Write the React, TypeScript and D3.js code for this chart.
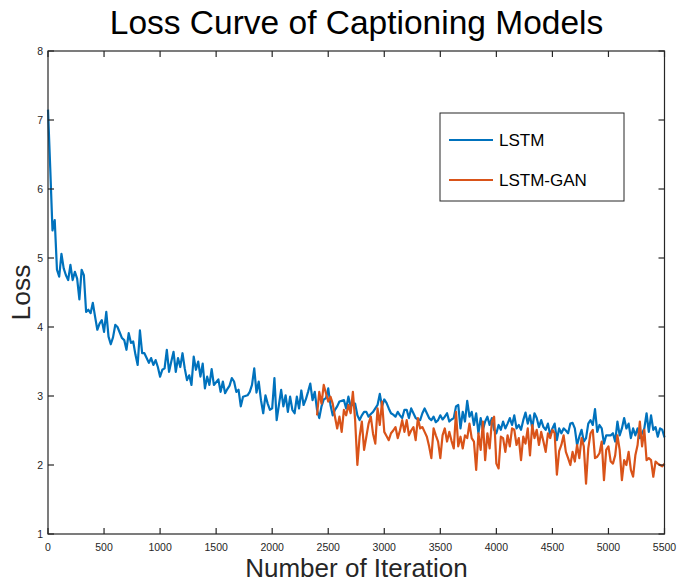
import * as d3 from 'd3'

// logged every 20 iterations
const STEP = 20
const GAN_START = 2400

const lstmLoss = [
  7.15, 6.3, 5.4, 5.55, 4.83, 4.73, 5.06, 4.85, 4.75, 4.68,
  4.9, 4.68, 4.8, 4.7, 4.4, 4.83, 4.75, 4.22, 4.25, 4.2,
  4.35, 4.15, 3.96, 4.05, 4.1, 3.93, 4.22, 3.86, 3.75, 3.85,
  4.03, 4.0, 3.92, 3.84, 3.81, 3.67, 3.91, 3.77, 3.79, 3.6,
  3.45, 3.95, 3.62, 3.62, 3.55, 3.48, 3.55, 3.45, 3.52, 3.42,
  3.28, 3.38, 3.4, 3.67, 3.35, 3.5, 3.64, 3.35, 3.55, 3.42,
  3.62, 3.4, 3.23, 3.3, 3.16, 3.57, 3.38, 3.5, 3.28, 3.47,
  3.11, 3.28, 3.16, 3.39, 3.16, 3.2, 3.24, 3.06, 3.21, 3.04,
  3.1, 3.15, 3.26, 3.21, 3.06, 3.09, 2.85, 2.99, 3.0, 3.01,
  3.06, 3.16, 3.4, 3.05, 3.21, 2.94, 2.75, 3.01, 2.89, 2.8,
  2.82, 3.26, 2.65, 2.87, 3.09, 2.85, 3.01, 2.77, 2.99, 2.8,
  2.75, 2.99, 2.82, 3.08, 2.87, 2.95, 3.06, 3.18, 2.94, 3.06,
  2.8, 2.68, 2.85, 2.95, 2.97, 3.11, 2.87, 2.72, 2.8, 2.85,
  2.92, 2.93, 2.94, 2.82, 2.99, 2.85, 2.88, 2.89, 2.72, 2.65,
  2.72, 2.77, 2.77, 2.7, 2.74, 2.77, 2.82, 2.87, 3.03, 2.85,
  2.95, 2.9, 2.82, 2.75, 2.73, 2.7, 2.77, 2.72, 2.68, 2.8,
  2.8, 2.68, 2.82, 2.75, 2.68, 2.66, 2.65, 2.75, 2.82, 2.75,
  2.68, 2.65, 2.7, 2.62, 2.65, 2.72, 2.66, 2.7, 2.75, 2.63,
  2.66, 2.68, 2.85, 2.87, 2.53, 2.77, 2.63, 2.93, 2.7, 2.77,
  2.58, 2.75, 2.46, 2.68, 2.51, 2.63, 2.7, 2.58, 2.68, 2.51,
  2.46, 2.58, 2.51, 2.63, 2.53, 2.6, 2.68, 2.58, 2.72, 2.53,
  2.58, 2.51, 2.65, 2.76, 2.6, 2.72, 2.53, 2.75, 2.68, 2.55,
  2.65, 2.55, 2.51, 2.6, 2.43, 2.53, 2.6, 2.36, 2.53, 2.46,
  2.53, 2.5, 2.46, 2.6, 2.61, 2.53, 2.29, 2.41, 2.51, 2.34,
  2.39, 2.6, 2.65, 2.58, 2.81, 2.48, 2.58, 2.53, 2.31, 2.43,
  2.43, 2.43, 2.46, 2.34, 2.63, 2.43, 2.53, 2.68, 2.53, 2.6,
  2.39, 2.53, 2.43, 2.53, 2.39, 2.46, 2.53, 2.75, 2.48, 2.72,
  2.51, 2.55, 2.41, 2.53, 2.51, 2.4
]

const ganLoss = [
  2.72, 3.06, 2.89, 3.16, 3.04, 2.92, 2.99, 2.89, 2.7, 2.53,
  2.7, 2.48, 2.8, 2.72, 2.87, 2.75, 3.06, 2.65, 2.0, 2.41,
  2.63, 2.22, 2.41, 2.6, 2.7, 2.45, 2.31, 2.82, 2.58, 2.92,
  2.48, 2.42, 2.36, 2.46, 2.5, 2.55, 2.39, 2.5, 2.65, 2.48,
  2.65, 2.43, 2.5, 2.55, 2.36, 2.68, 2.53, 2.55, 2.48, 2.41,
  2.27, 2.1, 2.53, 2.43, 2.34, 2.1, 2.43, 2.53, 2.34, 2.48,
  2.35, 2.24, 2.77, 2.27, 2.41, 2.24, 2.43, 2.39, 2.6, 2.39,
  2.34, 1.93, 2.46, 2.22, 2.63, 2.07, 2.46, 2.24, 2.63, 2.7,
  2.02, 1.95, 2.41, 2.39, 2.19, 2.43, 2.27, 2.53, 2.51, 2.29,
  2.39, 2.07, 2.41, 2.31, 2.53, 2.14, 2.58, 2.39, 2.51, 2.29,
  2.48, 2.34, 2.19, 2.46, 2.39, 2.51, 2.46, 1.86, 2.2, 2.29,
  2.43, 2.19, 2.1, 2.0, 2.19, 2.05, 2.29, 2.1, 2.39, 2.27,
  1.73, 2.24, 2.46, 2.51, 2.1, 2.12, 2.17, 2.34, 1.78, 2.22,
  2.27, 2.05, 2.02, 2.14, 2.43, 2.22, 1.78, 2.07, 2.0, 2.19,
  1.93, 1.83, 2.14, 2.29, 2.63, 2.27, 2.51, 2.07, 2.1, 2.07,
  1.83, 2.05, 2.02, 2.0, 1.98, 2.02
]

const xTicks = [0, 500, 1000, 1500, 2000, 2500, 3000, 3500, 4000, 4500, 5000, 5500]
const yTicks = [1, 2, 3, 4, 5, 6, 7, 8]

const seriesNames = ['LSTM', 'LSTM-GAN']
const colors = ['#0072BD', '#D95319']

const font = '"Liberation Sans", Arial, Helvetica, sans-serif'
const axisColor = '#262626'

export default function App() {
  const width = 687
  const height = 584
  const left = 48
  const right = 664.5
  const top = 51
  const bottom = 534

  const x = d3.scaleLinear().domain([0, 5500]).range([left, right])
  const y = d3.scaleLinear().domain([1, 8]).range([bottom, top])

  const line = d3
    .line<[number, number]>()
    .x(d => x(d[0]))
    .y(d => y(d[1]))

  const lstmPts: [number, number][] = lstmLoss.map((v, i) => [i * STEP, v])
  const ganPts: [number, number][] = ganLoss.map((v, i) => [GAN_START + i * STEP, v])

  const tickLen = 6

  return (
    <svg
      width={width}
      height={height}
      style={{ position: 'absolute', left: 0, top: 0, background: '#fff' }}
      fontFamily={font}
    >
      <rect x={0} y={0} width={width} height={height} fill="#fff" />

      {/* data */}
      <path d={line(lstmPts) || ''} fill="none" stroke={colors[0]} strokeWidth={2.2} strokeLinejoin="round" />
      <path d={line(ganPts) || ''} fill="none" stroke={colors[1]} strokeWidth={2.2} strokeLinejoin="round" />

      {/* box + ticks */}
      <rect x={left} y={top} width={right - left} height={bottom - top} fill="none" stroke={axisColor} strokeWidth={1.2} />
      {xTicks.map(t => (
        <g key={'x' + t}>
          <line x1={x(t)} x2={x(t)} y1={bottom} y2={bottom - tickLen} stroke={axisColor} strokeWidth={1.2} />
          <line x1={x(t)} x2={x(t)} y1={top} y2={top + tickLen} stroke={axisColor} strokeWidth={1.2} />
          <text x={x(t)} y={bottom + 16.5} textAnchor="middle" fontSize={10.5} fill={axisColor}>
            {t}
          </text>
        </g>
      ))}
      {yTicks.map(t => (
        <g key={'y' + t}>
          <line x1={left} x2={left + tickLen} y1={y(t)} y2={y(t)} stroke={axisColor} strokeWidth={1.2} />
          <line x1={right} x2={right - tickLen} y1={y(t)} y2={y(t)} stroke={axisColor} strokeWidth={1.2} />
          <text x={43} y={y(t) + 3.8} textAnchor="end" fontSize={10.5} fill={axisColor}>
            {t}
          </text>
        </g>
      ))}

      {/* labels */}
      <text x={356.5} y={34} textAnchor="middle" fontSize={33.5} fill="#000">
        Loss Curve of Captioning Models
      </text>
      <text x={356.5} y={577} textAnchor="middle" fontSize={26} fill={axisColor}>
        Number of Iteration
      </text>
      <text transform={`translate(30, ${(top + bottom) / 2}) rotate(-90)`} textAnchor="middle" fontSize={26.5} fill={axisColor}>
        Loss
      </text>

      {/* legend */}
      <g>
        <rect x={440} y={113} width={184} height={88} fill="#fff" stroke={axisColor} strokeWidth={1} />
        {seriesNames.map((name, i) => (
          <g key={name}>
            <line x1={449} x2={493} y1={140 + i * 40} y2={140 + i * 40} stroke={colors[i]} strokeWidth={2.2} />
            <text x={499} y={140 + i * 40 + 6} fontSize={17} fill="#000">
              {name}
            </text>
          </g>
        ))}
      </g>
    </svg>
  )
}
